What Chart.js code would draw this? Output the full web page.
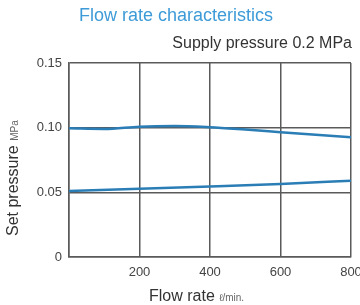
<!DOCTYPE html>
<html>
<head>
<meta charset="utf-8">
<script src="https://cdn.jsdelivr.net/npm/chart.js@4.4.1/dist/chart.umd.min.js"></script>
<style>
  body { margin: 0; background: #fff; }
  #wrap { width: 360px; height: 305px; }
</style>
</head>
<body>
<div id="wrap"><canvas id="chart" width="360" height="305"></canvas></div>
<script>
// flow rate (l/min) and set pressure (MPa)
const upperFlow = [0, 100, 200, 300, 400, 500, 600, 700, 800];
const upperPressure = [0.0995, 0.0990, 0.1008, 0.1013, 0.1003, 0.0985, 0.0965, 0.0945, 0.0925];
const lowerFlow = [0, 200, 400, 600, 800];
const lowerPressure = [0.0510, 0.0527, 0.0545, 0.0565, 0.0590];
const xTicks = [200, 400, 600, 800];
const yTicks = [0, 0.05, 0.10, 0.15];

const lineColor = "#2b7db6";
const gridColor = "#5a5a5a";
const font = "'Liberation Sans', Arial, sans-serif";

function toPoints(xs, ys) {
  return xs.map((x, i) => ({ x: x, y: ys[i] }));
}

// titles drawn by hand so the unit parts can be smaller
const textPlugin = {
  id: "texts",
  afterDraw(chart) {
    const c = chart.ctx;
    c.save();
    c.textBaseline = "alphabetic";

    c.fillStyle = "#3e9bd8";
    c.font = "18px " + font;
    c.textAlign = "center";
    c.fillText("Flow rate characteristics", 176, 21);

    c.fillStyle = "#333";
    c.font = "16px " + font;
    c.textAlign = "right";
    c.fillText("Supply pressure 0.2 MPa", 352, 48);

    // x title
    c.textAlign = "left";
    c.font = "16px " + font;
    c.fillStyle = "#333";
    c.fillText("Flow rate", 149, 301);
    let w = c.measureText("Flow rate ").width;
    c.font = "10px " + font;
    c.fillStyle = "#666";
    c.fillText("\u2113/min.", 149 + w, 301);

    // y title
    c.translate(18, 236);
    c.rotate(-Math.PI / 2);
    c.font = "16px " + font;
    c.fillStyle = "#333";
    c.fillText("Set pressure", 0, 0);
    w = c.measureText("Set pressure ").width;
    c.font = "10px " + font;
    c.fillStyle = "#666";
    c.fillText("MPa", w, 0);
    c.restore();
  }
};

const ctx = document.getElementById("chart");
const chart = new Chart(ctx, {
  type: "line",
  data: {
    datasets: [
      {
        label: "upper",
        data: toPoints(upperFlow, upperPressure),
        borderColor: lineColor,
        borderWidth: 2.5,
        pointRadius: 0,
        cubicInterpolationMode: "monotone"
      },
      {
        label: "lower",
        data: toPoints(lowerFlow, lowerPressure),
        borderColor: lineColor,
        borderWidth: 2.5,
        pointRadius: 0,
        cubicInterpolationMode: "monotone"
      }
    ]
  },
  options: {
    responsive: false,
    animation: false,
    layout: { padding: { left: 0, right: 9, top: 63, bottom: 0 } },
    plugins: {
      legend: { display: false },
      tooltip: { enabled: false }
    },
    scales: {
      x: {
        type: "linear",
        min: 0,
        max: 800,
        afterBuildTicks: (axis) => {
          axis.ticks = [0].concat(xTicks).map(v => ({ value: v }));
        },
        afterFit: (axis) => {
          axis.height = 48;
          axis.paddingLeft = 0;
          axis.paddingRight = 0;
        },
        ticks: {
          callback: (v) => (v === 0 ? "" : String(v)),
          color: "#444",
          font: { size: 13, family: font },
          padding: 8,
          maxRotation: 0
        },
        grid: { color: gridColor, lineWidth: 1.5, drawTicks: false },
        border: { color: gridColor, width: 1.5 }
      },
      y: {
        min: 0,
        max: 0.15,
        afterBuildTicks: (axis) => {
          axis.ticks = yTicks.map(v => ({ value: v }));
        },
        afterFit: (axis) => {
          axis.width = 69;
          axis.paddingTop = 0;
          axis.paddingBottom = 0;
        },
        ticks: {
          callback: (v) => (v === 0 ? "0" : v.toFixed(2)),
          color: "#444",
          font: { size: 13, family: font },
          padding: 7
        },
        grid: { color: gridColor, lineWidth: 1.5, drawTicks: false },
        border: { color: gridColor, width: 1.5 }
      }
    }
  },
  plugins: [textPlugin]
});
</script>
</body>
</html>
